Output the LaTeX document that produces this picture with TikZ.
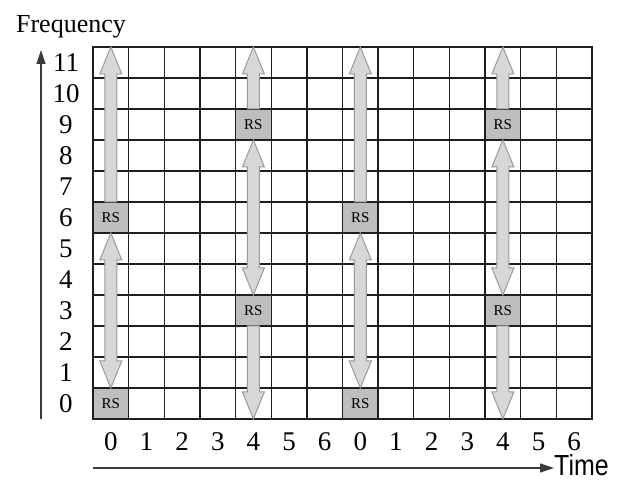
\documentclass[tikz,border=0pt]{standalone}
\usepackage{fontspec}
\setmainfont{Liberation Serif}
\newfontfamily\axisfont{Liberation Sans}
\usetikzlibrary{calc,arrows.meta}

\definecolor{gridink}{HTML}{1E1E1E}
\definecolor{rsfill}{HTML}{BEBEBE}
\definecolor{arrowfill}{HTML}{D7D7D7}
\definecolor{arrowedge}{HTML}{9A9A9A}
\definecolor{axisink}{HTML}{3A3A3A}

% cell size and arrow geometry (pt)
\newcommand\cw{35.643}
\newcommand\rh{31}
\newcommand\hw{11}   % half width of an arrow head
\newcommand\sw{6}    % half width of an arrow shaft
\newcommand\hl{27}   % length of an arrow head

% block arrow pointing up: #1 flat base, #2 tip
\newcommand\arrowup[2]{%
  \draw[blockarrow] (#2) -- ($(#2)+(\hw,-\hl)$) -- ($(#2)+(\sw,-\hl)$)
    -- ($(#1)+(\sw,0)$) -- ($(#1)+(-\sw,0)$) -- ($(#2)+(-\sw,-\hl)$)
    -- ($(#2)+(-\hw,-\hl)$) -- cycle;}
% block arrow pointing down: #1 flat base, #2 tip
\newcommand\arrowdown[2]{%
  \draw[blockarrow] (#2) -- ($(#2)+(\hw,\hl)$) -- ($(#2)+(\sw,\hl)$)
    -- ($(#1)+(\sw,0)$) -- ($(#1)+(-\sw,0)$) -- ($(#2)+(-\sw,\hl)$)
    -- ($(#2)+(-\hw,\hl)$) -- cycle;}
% two-headed block arrow: #1 upper tip, #2 lower tip
\newcommand\arrowboth[2]{%
  \draw[blockarrow] (#1) -- ($(#1)+(\hw,-\hl)$) -- ($(#1)+(\sw,-\hl)$)
    -- ($(#2)+(\sw,\hl)$) -- ($(#2)+(\hw,\hl)$) -- (#2)
    -- ($(#2)+(-\hw,\hl)$) -- ($(#2)+(-\sw,\hl)$)
    -- ($(#1)+(-\sw,-\hl)$) -- ($(#1)+(-\hw,-\hl)$) -- cycle;}

\begin{document}
\begin{tikzpicture}[x=1pt,y=1pt,
  gridline/.style={draw=gridink, line width=1.3pt, line cap=rect},
  rs/.style={draw=gridink, line width=1.3pt, fill=rsfill,
    minimum width=35.643pt, minimum height=31pt, inner sep=0pt, outer sep=0pt,
    font=\fontsize{15}{16}\selectfont},
  blockarrow/.style={fill=arrowfill, draw=arrowedge, line width=1pt, line join=miter},
  numlab/.style={inner sep=0pt, anchor=base, font=\fontsize{27}{28}\selectfont},
  axis/.style={draw=axisink, line width=1.2pt, -{Triangle[length=14pt,width=9pt]}},
]
\useasboundingbox (0,0) rectangle (622,482);

% time-frequency grid: 14 slots by 12 sub-carriers
\foreach \i in {0,...,14}
  \draw[gridline] ({93+\i*\cw},63) -- ({93+\i*\cw},435);
\foreach \j in {0,...,12}
  \draw[gridline] (93,{63+\j*\rh}) -- (592,{63+\j*\rh});

% reference signal cells
\node[rs] (rsA0) at ({93+0.5*\cw},78.5) {RS};
\node[rs] (rsA6) at ({93+0.5*\cw},264.5) {RS};
\node[rs] (rsB3) at ({93+4.5*\cw},171.5) {RS};
\node[rs] (rsB9) at ({93+4.5*\cw},357.5) {RS};
\node[rs] (rsC0) at ({93+7.5*\cw},78.5) {RS};
\node[rs] (rsC6) at ({93+7.5*\cw},264.5) {RS};
\node[rs] (rsD3) at ({93+11.5*\cw},171.5) {RS};
\node[rs] (rsD9) at ({93+11.5*\cw},357.5) {RS};

% grid edges where the open arrows end
\coordinate (topA) at ({93+0.5*\cw},435);
\coordinate (topB) at ({93+4.5*\cw},435);
\coordinate (botB) at ({93+4.5*\cw},63);
\coordinate (topC) at ({93+7.5*\cw},435);
\coordinate (topD) at ({93+11.5*\cw},435);
\coordinate (botD) at ({93+11.5*\cw},63);

% interpolation arrows between reference signals
\arrowup{rsA6.north}{topA}
\arrowboth{rsA6.south}{rsA0.north}
\arrowup{rsB9.north}{topB}
\arrowboth{rsB9.south}{rsB3.north}
\arrowdown{rsB3.south}{botB}
\arrowup{rsC6.north}{topC}
\arrowboth{rsC6.south}{rsC0.north}
\arrowup{rsD9.north}{topD}
\arrowboth{rsD9.south}{rsD3.north}
\arrowdown{rsD3.south}{botD}

% frequency index labels (placed on a common baseline per row)
\foreach \r in {0,...,11}
  \node[numlab] (fl\r) at (66,{69.3+\r*\rh}) {\r};
% time index labels
\foreach \c in {0,...,13}{
  \pgfmathtruncatemacro\t{mod(\c,7)}
  \node[numlab] (tl\c) at ({93+(\c+0.5)*\cw},31.6) {\t};
}

% axes
\node[inner sep=0pt, anchor=base, font=\fontsize{26}{28}\selectfont] (flab) at (71,449) {Frequency};
\coordinate (yaxS) at (41,63);
\coordinate (yaxT) at (41,432);
\draw[axis] (yaxS) -- (yaxT);

\node[inner sep=0pt, anchor=base west, font=\axisfont\fontsize{29}{30}\selectfont] (tlab) at (554,6.5) {\scalebox{0.86}[1]{Time}};
\coordinate (xaxS) at (93,14);
\coordinate (xaxT) at (554,14);
\draw[axis] (xaxS) -- (xaxT);
\end{tikzpicture}
\end{document}
